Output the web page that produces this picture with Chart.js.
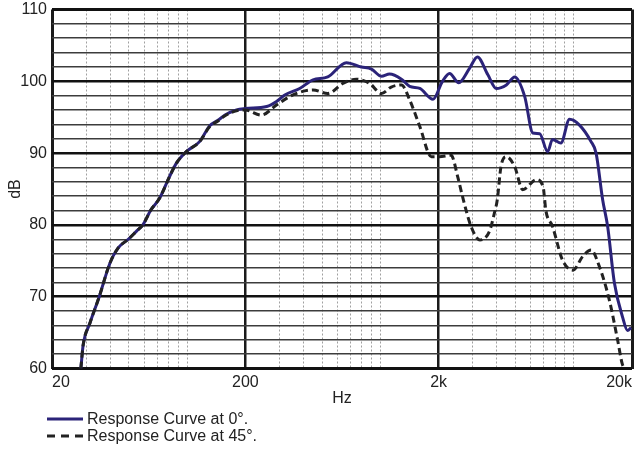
<!DOCTYPE html>
<html>
<head>
<meta charset="utf-8">
<script src="https://cdn.jsdelivr.net/npm/chart.js@4.4.1/dist/chart.umd.min.js"></script>
<style>
  body { margin: 0; background: #fff; font-family: "Liberation Sans", Arial, sans-serif; color: #222; }
  #wrap { position: relative; width: 635px; height: 450px; }
  #fr { position: absolute; left: 0; top: 0; }
  #legend { position: absolute; left: 47px; top: 410px; font-size: 16px; line-height: 17px; }
  .leg-item { display: flex; align-items: center; height: 17px; }
  .leg-item svg { margin-right: 4px; }
</style>
</head>
<body>
<div id="wrap">
  <canvas id="fr" width="635" height="412"></canvas>
  <div id="legend"></div>
</div>
<script>
// Series labels
const seriesLabels = ['Response Curve at 0°.', 'Response Curve at 45°.'];

// 0° curve: frequency (Hz) and level (dB)
const freq0 = [28.2, 29, 31.4, 35.1, 39.9, 44, 49.6, 54.6, 59, 65,
  72, 81, 88, 99, 116, 131, 145, 157, 180, 200,
  258, 290, 320, 382, 448, 534, 666, 796, 898, 1012,
  1114, 1284, 1416, 1598, 1870, 2092, 2278, 2540, 2888, 3172,
  3594, 3976, 4480, 4948, 5570, 6140, 6660, 7320, 7760, 8580,
  9500, 10700, 12280, 13040, 14100, 14960, 16220, 17860, 18960, 19800];
const db0 = [60, 63.3, 66.3, 70, 74.7, 76.8, 78, 79.1, 80, 82.1,
  83.7, 86.7, 88.6, 90.2, 91.6, 93.8, 94.6, 95.3, 96.0, 96.2,
  96.5, 97.2, 98.1, 99, 100.2, 100.6, 102.6, 102.0, 101.7, 100.7,
  101, 100.3, 99.3, 99.0, 97.5, 100.0, 101.1, 99.8, 101.8, 103.4,
  100.9, 99.0, 99.5, 100.6, 97.9, 92.8, 92.7, 90.2, 91.9, 91.4,
  94.7, 93.9, 91.6, 90.0, 83.5, 79.8, 71.9, 67.2, 65.3, 65.7];

// 45° curve
const freq45 = [28.2, 29, 31.4, 35.1, 39.9, 44, 49.6, 54.6, 59, 65,
  72, 81, 88, 99, 116, 131, 145, 157, 180, 200,
  242, 290, 353, 448, 534, 639, 750, 880, 1012, 1136,
  1284, 1416, 1598, 1834, 2016, 2320, 2510, 2660, 2940, 3270,
  3660, 3880, 4020, 4200, 4480, 4948, 5440, 6400, 6940, 7070,
  7160, 7760, 8740, 9900, 11120, 12280, 13560, 15280, 16840, 17780, 18200];
const db45 = [60, 63.3, 66.3, 70, 74.7, 76.8, 78, 79.1, 80, 82.1,
  83.7, 86.7, 88.6, 90.2, 91.6, 93.7, 94.5, 95.2, 95.9, 96.0,
  95.3, 96.7, 98.1, 98.8, 98.3, 99.7, 100.3, 99.7, 98.3, 99.2,
  99.5, 97.4, 93.7, 89.5, 89.5, 89.7, 86.7, 83.9, 79.8, 77.9,
  79.1, 81.6, 83.5, 88.1, 89.5, 88.1, 84.9, 86.3, 85.3, 83.5,
  82.1, 79.8, 75.1, 73.7, 75.6, 76.5, 74.2, 69.5, 64.0, 60.7, 60];

// Axis ticks
const xMajor = [20, 200, 2000, 20000];
const xMajorLabels = ['20', '200', '2k', '20k'];
const xMinor = [30, 40, 50, 60, 70, 80, 90, 100,
  300, 400, 500, 600, 700, 800, 900, 1000,
  3000, 4000, 5000, 6000, 7000, 8000, 9000, 10000];
const Y_MIN = 60, Y_MAX = 110, Y_STEP = 2;

Chart.defaults.font.family = '"Liberation Sans", Arial, sans-serif';
Chart.defaults.font.size = 16;
Chart.defaults.color = '#222';

const toPoints = (xs, ys) => xs.map((f, i) => ({ x: f, y: ys[i] }));

const ctx = document.getElementById('fr').getContext('2d');
const frChart = new Chart(ctx, {
  type: 'line',
  data: {
    datasets: [
      { label: seriesLabels[0], data: toPoints(freq0, db0), borderColor: '#2b2379', borderWidth: 3, order: 2 },
      { label: seriesLabels[1], data: toPoints(freq45, db45), borderColor: '#222', borderWidth: 3, borderDash: [7, 4], order: 1 }
    ]
  },
  options: {
    responsive: false,
    animation: false,
    layout: { padding: { left: 0, right: 3, top: 9.5, bottom: 0 } },
    elements: { point: { radius: 0 }, line: { cubicInterpolationMode: 'monotone' } },
    plugins: { legend: { display: false }, tooltip: { enabled: false } },
    scales: {
      xMinor: {
        type: 'logarithmic', min: 20, max: 20000, position: 'bottom',
        afterBuildTicks: s => { s.ticks = xMinor.map(v => ({ value: v })); },
        afterFit: s => { s.height = 0; s.paddingLeft = 0; s.paddingRight = 0; },
        ticks: { display: false, autoSkip: false },
        grid: { color: '#a0a0a0', lineWidth: 1, drawTicks: false },
        border: { display: false, dash: [2, 2] }
      },
      x: {
        type: 'logarithmic', min: 20, max: 20000, position: 'bottom',
        afterBuildTicks: s => { s.ticks = xMajor.map(v => ({ value: v })); },
        afterFit: s => { s.height = 43.5; s.paddingLeft = 0; s.paddingRight = 0; },
        ticks: {
          align: 'inner', padding: 4, autoSkip: false, maxRotation: 0,
          callback: v => xMajorLabels[xMajor.indexOf(v)]
        },
        grid: {
          color: '#1a1a1a', drawTicks: false,
          lineWidth: c => (c.tick.value === 20 || c.tick.value === 20000) ? 3 : 2.5
        },
        border: { display: false },
        title: { display: true, text: 'Hz', font: { size: 16 }, padding: { top: 0, bottom: 4 } }
      },
      y: {
        min: Y_MIN, max: Y_MAX,
        afterFit: s => { s.width = 52; s.paddingTop = 0; s.paddingBottom = 0; },
        ticks: {
          stepSize: Y_STEP, autoSkip: false, padding: 5,
          callback: v => (v % 10 === 0 ? v : '')
        },
        grid: {
          drawTicks: false,
          color: c => (c.tick.value % 10 === 0 ? '#111' : '#3c3c3c'),
          lineWidth: c => {
            const v = c.tick.value;
            if (v === Y_MIN || v === Y_MAX) return 3;
            return v % 10 === 0 ? 2.5 : 1.5;
          }
        },
        border: { display: false },
        title: { display: true, text: 'dB', font: { size: 16 }, padding: { top: 6, bottom: 0 } }
      }
    }
  }
});

// Legend below the plot, built from the datasets
const legendBox = document.getElementById('legend');
frChart.data.datasets.forEach(ds => {
  const row = document.createElement('div');
  row.className = 'leg-item';
  const dash = ds.borderDash ? 'stroke-dasharray="8 6"' : '';
  row.innerHTML = `<svg width="36" height="17"><line x1="0" y1="9" x2="36" y2="9" stroke="${ds.borderColor}" stroke-width="3" ${dash}/></svg><span>${ds.label}</span>`;
  legendBox.appendChild(row);
});
</script>
</body>
</html>
